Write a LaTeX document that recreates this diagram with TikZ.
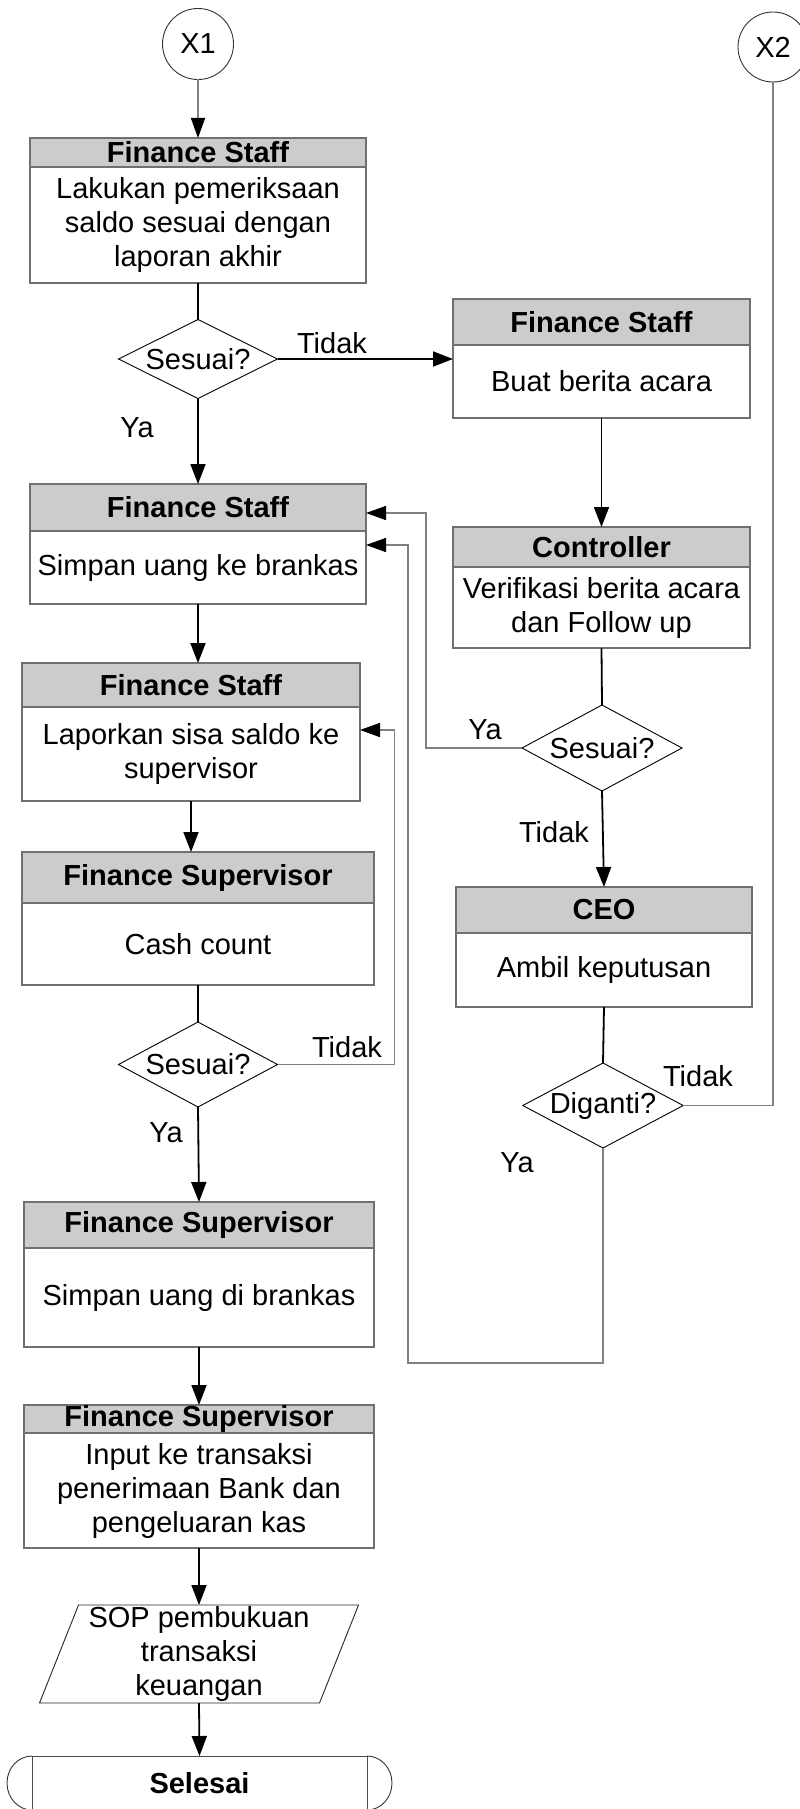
\documentclass[tikz,border=0pt]{standalone}
\usepackage{fontspec}
\setmainfont{Liberation Sans}
\usetikzlibrary{arrows.meta,shapes.geometric,calc}
\definecolor{hdrfill}{HTML}{CCCCCC}
\definecolor{bordergray}{HTML}{707070}
\definecolor{linegray}{HTML}{808080}
\begin{document}
\begin{tikzpicture}[x=1pt,y=-1pt,
  every node/.style={font=\fontsize{29}{34}\selectfont, inner sep=0pt, outer sep=0pt},
  hdr/.style={draw=bordergray, fill=hdrfill, line width=1.6pt, font=\fontsize{29}{34}\selectfont\bfseries},
  bodybox/.style={draw=bordergray, fill=white, line width=1.6pt, align=center},
  dec/.style={diamond, shape aspect=2, draw=black, line width=0.9pt, fill=white},
  conn/.style={draw=black!80, circle, line width=0.9pt, minimum size=71pt},
  arr/.style={draw=black, line width=1.8pt, -{Triangle[length=20pt,width=15pt]}},
  bline/.style={draw=black, line width=1.8pt},
  garr/.style={draw=linegray, line width=1.6pt, -{Triangle[length=20pt,width=14pt,color=black]}},
  gline/.style={draw=linegray, line width=1.6pt},
  thinline/.style={draw=black!85, line width=0.9pt}
]
\useasboundingbox (0,0) rectangle (800,1809);

% connectors (circles)
\node[conn] (x1) at (198,44) {X1};
\node[conn, minimum size=70pt] (x2) at (773,47) {X2};

% Box 1
\node[hdr, minimum width=336pt, minimum height=29pt] (b1h) at (198,152.5) {Finance Staff};
\node[bodybox, minimum width=336pt, minimum height=116pt] (b1b) at (198,225) {Lakukan pemeriksaan\\saldo sesuai dengan\\laporan akhir};

% Box 2
\node[hdr, minimum width=297pt, minimum height=46pt] (b2h) at (601.5,322) {Finance Staff};
\node[bodybox, minimum width=297pt, minimum height=73pt] (b2b) at (601.5,381.5) {Buat berita acara};

% Box 3
\node[hdr, minimum width=336pt, minimum height=47pt] (b3h) at (198,507.5) {Finance Staff};
\node[bodybox, minimum width=336pt, minimum height=73pt] (b3b) at (198,567.5) {Simpan uang ke brankas};

% Controller
\node[hdr, minimum width=297pt, minimum height=40pt] (ch) at (601.5,547) {Controller};
\node[bodybox, minimum width=297pt, minimum height=81pt] (cb) at (601.5,607.5) {Verifikasi berita acara\\dan Follow up};

% Laporkan
\node[hdr, minimum width=338pt, minimum height=44pt] (lh) at (191,685) {Finance Staff};
\node[bodybox, minimum width=338pt, minimum height=94pt] (lb) at (191,754) {Laporkan sisa saldo ke\\supervisor};

% Cash count
\node[hdr, minimum width=352pt, minimum height=51pt] (s1h) at (198,877.5) {Finance Supervisor};
\node[bodybox, minimum width=352pt, minimum height=82pt] (s1b) at (198,944) {Cash count};

% CEO
\node[hdr, minimum width=296pt, minimum height=46pt] (ceoh) at (604,910) {CEO};
\node[bodybox, minimum width=296pt, minimum height=74pt] (ceob) at (604,970) {Ambil keputusan};

% Simpan uang di brankas
\node[hdr, minimum width=350pt, minimum height=46pt] (s2h) at (199,1225) {Finance Supervisor};
\node[bodybox, minimum width=350pt, minimum height=99pt] (s2b) at (199,1297.5) {Simpan uang di brankas};

% Input
\node[hdr, minimum width=350pt, minimum height=28pt] (s3h) at (199,1419) {Finance Supervisor};
\node[bodybox, minimum width=350pt, minimum height=115pt] (s3b) at (199,1490.5) {Input ke transaksi\\penerimaan Bank dan\\pengeluaran kas};

% Decisions
\node[dec, minimum width=159pt, minimum height=79pt] (d1) at (198,359) {Sesuai?};
\node[dec, minimum width=160pt, minimum height=86pt] (d2) at (602,748) {Sesuai?};
\node[dec, minimum width=159pt, minimum height=85pt] (d3) at (603,1105.5) {Diganti?};
\node[dec, minimum width=159pt, minimum height=85pt] (d4) at (198,1064.5) {Sesuai?};

% Parallelogram
\node[align=center, minimum width=280pt, minimum height=98pt] (p) at (199,1654) {SOP pembukuan\\transaksi\\keuangan};
\draw[thinline] ([xshift=19.5pt]p.north west) -- ([xshift=19.5pt]p.north east) -- ([xshift=-19.5pt]p.south east) -- ([xshift=-19.5pt]p.south west) -- cycle;

% Terminal
\node[draw=black!70, line width=1pt, minimum width=335pt, minimum height=54pt, font=\fontsize{29}{34}\selectfont\bfseries] (sel) at (199.5,1783) {Selesai};
\draw[draw=black!80, line width=0.9pt] (sel.north west) arc[start angle=90,end angle=270,x radius=25pt,y radius=27pt];
\draw[draw=black!80, line width=0.9pt] (sel.south east) arc[start angle=-90,end angle=90,x radius=25pt,y radius=27pt];

% Labels
\node (t1) at (332,343) {Tidak};
\node (y1) at (137,428) {Ya};
\node (y2) at (485,730) {Ya};
\node (t2) at (554,832) {Tidak};
\node (t3) at (698,1076) {Tidak};
\node (y3) at (517,1163) {Ya};
\node (t4) at (347,1047) {Tidak};
\node (y4) at (166,1133) {Ya};

% Bend coordinates
\coordinate (k1) at (408,1363);

% Connectors
\draw[garr] (x1) -- (b1h);
\draw[bline] (b1b.south) -- (d1.north);
\draw[arr] (d1.east) -- (d1.east -| b2b.west);
\draw[arr] (d1.south) -- (b3h.north);
\draw[arr] (b2b.south) -- (ch.north);
\draw[bline] (cb.south) -- (d2.north);
\draw[garr] (d2.west) -- ++(-96,0) |- ([yshift=-5.5pt]b3h.east);
\draw[arr] (d2.south) -- (ceoh.north);
\draw[bline] (ceob.south) -- (d3.north);
\draw[gline] (x2.south) |- (d3.east);
\draw[garr] (d3.south) |- (k1) |- ([yshift=22.5pt]b3b.east);
\draw[garr] (d4.east) -- ++(117,0) |- ([yshift=24pt]lb.east);
\draw[arr] (b3b.south) -- (b3b.south |- lh.north);
\draw[arr] (lb.south) -- (lb.south |- s1h.north);
\draw[bline] (s1b.south) -- (d4.north);
\draw[arr] (d4.south) -- (s2h.north);
\draw[arr] (s2b.south) -- (s3h.north);
\draw[arr] (s3b.south) -- (p.north);
\draw[arr] (p.south) -- (sel.north);
\end{tikzpicture}
\end{document}
